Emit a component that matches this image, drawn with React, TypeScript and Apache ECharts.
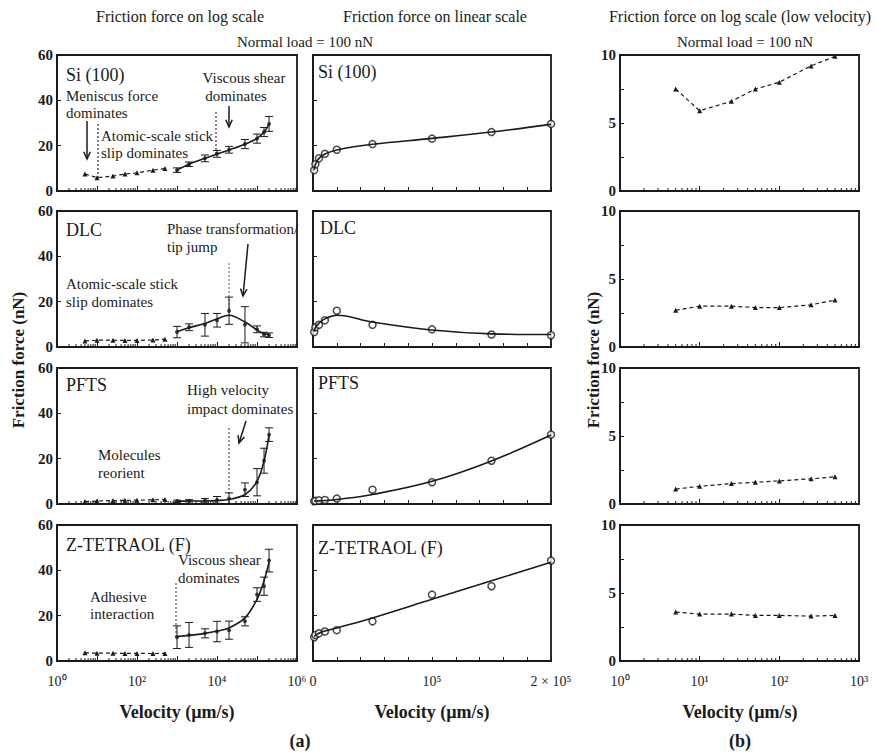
import React, { useEffect, useRef } from "react";
import * as echarts from "echarts";

// Sliding velocities (µm/s)
const highVelocity = [1000, 2000, 5000, 10000, 20000, 50000, 100000, 150000, 200000];
const lowVelocity = [5, 10, 25, 50, 100, 250, 500];

const materials = ["Si (100)", "DLC", "PFTS", "Z-TETRAOL (F)"];

// Low-velocity friction force (nN)
const siLow = [7.5, 5.9, 6.6, 7.5, 8.0, 9.2, 9.9];
const dlcLow = [2.7, 3.0, 3.0, 2.9, 2.9, 3.1, 3.45];
const pftsLow = [1.1, 1.3, 1.5, 1.6, 1.7, 1.85, 2.0];
const ztetraolLow = [3.6, 3.45, 3.45, 3.35, 3.35, 3.3, 3.35];

// High-velocity friction force (nN), measured points
const siHigh = [9.2, 11.8, 14.4, 16.4, 18.2, 20.7, 23.1, 26.0, 29.6];
const dlcHigh = [6.6, 8.7, 9.8, 11.8, 16.0, 9.8, 7.8, 5.5, 5.2];
const pftsHigh = [1.2, 1.4, 1.6, 1.8, 2.4, 6.3, 9.6, 19.1, 30.6];
const ztetraolHigh = [10.5, 11.5, 12.2, 13.0, 13.6, 17.5, 29.3, 33.0, 44.3];

// Fitted trend curves at the same velocities
const siFit = [9.2, 11.8, 14.4, 16.3, 18.1, 20.6, 23.2, 26.0, 29.4];
const dlcFit = [6.8, 8.5, 10.4, 12.4, 14.0, 11.0, 7.5, 5.8, 5.5];
const pftsFit = [1.25, 1.3, 1.4, 1.56, 2.0, 4.2, 10.0, 19.0, 30.4];
const ztetraolFit = [10.8, 11.3, 12.2, 13.2, 14.6, 19.0, 27.2, 35.4, 43.6];

// Error bar half-widths (nN)
const siErr = [1, 1, 1.5, 1.5, 1.5, 2, 2, 2, 3.3];
const dlcErr = [2.5, 1.5, 5, 3, 6, 8, 1.5, 1, 1];
const pftsErr = [0.5, 0.5, 0.8, 1.5, 2.5, 3, 6, 5.5, 3];
const ztetraolErr = [5, 5.5, 2, 4.5, 4, 2, 3, 4, 5];

const lowSets = [siLow, dlcLow, pftsLow, ztetraolLow];
const highSets = [siHigh, dlcHigh, pftsHigh, ztetraolHigh];
const fitSets = [siFit, dlcFit, pftsFit, ztetraolFit];
const errSets = [siErr, dlcErr, pftsErr, ztetraolErr];

const SERIF = "Liberation Serif";
const INK = "#1a1a1a";

const SUP: Record<string, string> = { "0": "⁰", "1": "¹", "2": "²", "3": "³", "4": "⁴", "5": "⁵", "6": "⁶" };
const pow10 = (e: number) => "10" + SUP[String(e)];

const COLS = [
  { left: 57, width: 240 },
  { left: 313, width: 238 },
  { left: 620, width: 239 },
];
const ROW_TOPS = [55, 211, 368, 525];
const ROW_H = 136;

function minorLogTicks(maxExp: number) {
  const out: number[][] = [];
  for (let k = 0; k < maxExp; k++) for (let m = 2; m <= 9; m++) out.push([m * Math.pow(10, k), 0]);
  return out;
}

const tickLabel = { fontFamily: SERIF, fontSize: 14, color: INK };

function logX(g: number, maxExp: number, show: boolean, every: number) {
  return {
    type: "log",
    gridIndex: g,
    logBase: 10,
    min: 1,
    max: Math.pow(10, maxExp),
    splitNumber: maxExp,
    axisLine: { show: true, lineStyle: { color: INK, width: 1.8 } },
    axisTick: { show: true, inside: true, length: 5, lineStyle: { color: INK, width: 1 } },
    axisLabel: {
      show,
      ...tickLabel,
      margin: 13,
      formatter: (v: number) => {
        const e = Math.round(Math.log10(v));
        return e % every === 0 ? pow10(e) : "";
      },
    },
    splitLine: { show: false },
  };
}

function linX(g: number, show: boolean) {
  return {
    type: "value",
    gridIndex: g,
    min: 0,
    max: 200000,
    interval: 20000,
    axisLine: { show: true, lineStyle: { color: INK, width: 1.8 } },
    axisTick: { show: true, inside: true, length: 4, lineStyle: { color: INK, width: 1 } },
    axisLabel: {
      show,
      ...tickLabel,
      margin: 13,
      formatter: (v: number) => (v === 0 ? "0" : v === 100000 ? "10⁵" : v === 200000 ? "2 × 10⁵" : ""),
    },
    splitLine: { show: false },
  };
}

function valY(g: number, max: number, interval: number, show: boolean, every: number) {
  return {
    type: "value",
    gridIndex: g,
    min: 0,
    max,
    interval,
    axisLine: { show: true, lineStyle: { color: INK, width: 1.8 } },
    axisTick: { show: true, inside: true, length: 4, lineStyle: { color: INK, width: 1 } },
    axisLabel: {
      show,
      fontFamily: SERIF,
      fontSize: 15,
      fontWeight: "bold",
      color: INK,
      margin: 4,
      formatter: (v: number) => (Math.abs(v / every - Math.round(v / every)) < 1e-9 ? String(v) : ""),
    },
    splitLine: { show: false },
  };
}

function tickSeries(g: number, maxExp: number) {
  return {
    type: "custom",
    xAxisIndex: g,
    yAxisIndex: g,
    silent: true,
    data: minorLogTicks(maxExp),
    encode: { x: 0, y: 1 },
    renderItem: (_p: any, api: any) => {
      const p = api.coord([api.value(0), 0]);
      return {
        type: "line",
        shape: { x1: p[0], y1: p[1], x2: p[0], y2: p[1] - 3 },
        style: { stroke: INK, lineWidth: 1 },
      };
    },
  };
}

function errorSeries(g: number, r: number) {
  return {
    type: "custom",
    xAxisIndex: g,
    yAxisIndex: g,
    silent: true,
    data: highVelocity.map((v, i) => [v, highSets[r][i], errSets[r][i]]),
    encode: { x: 0, y: 1 },
    renderItem: (_p: any, api: any) => {
      const x = api.value(0);
      const y = api.value(1);
      const e = api.value(2);
      const top = api.coord([x, y + e]);
      const bot = api.coord([x, Math.max(0, y - e)]);
      const cap = 4;
      const st = { stroke: INK, lineWidth: 1 };
      return {
        type: "group",
        children: [
          { type: "line", shape: { x1: top[0], y1: top[1], x2: bot[0], y2: bot[1] }, style: st },
          { type: "line", shape: { x1: top[0] - cap, y1: top[1], x2: top[0] + cap, y2: top[1] }, style: st },
          { type: "line", shape: { x1: bot[0] - cap, y1: bot[1], x2: bot[0] + cap, y2: bot[1] }, style: st },
        ],
      };
    },
  };
}

function txt(x: number, y: number, text: string, size = 15, extra: any = {}) {
  return {
    type: "text",
    x,
    y,
    style: {
      text,
      fill: INK,
      fontFamily: SERIF,
      fontSize: size,
      fontWeight: extra.weight || "normal",
      textAlign: extra.align || "left",
      textVerticalAlign: "middle",
    },
    rotation: extra.rotation || 0,
    silent: true,
  };
}

function dotted(x: number, y1: number, y2: number, color = "#333") {
  return {
    type: "line",
    shape: { x1: x, y1, x2: x, y2 },
    style: { stroke: color, lineWidth: 1.2, lineDash: [2, 2] },
    silent: true,
  };
}

function arrow(x1: number, y1: number, x2: number, y2: number) {
  const a = Math.atan2(y2 - y1, x2 - x1);
  const h = 8;
  const w = 0.42;
  const p1 = [x2 - h * Math.cos(a - w), y2 - h * Math.sin(a - w)];
  const p2 = [x2 - h * Math.cos(a + w), y2 - h * Math.sin(a + w)];
  return [
    { type: "line", shape: { x1, y1, x2, y2 }, style: { stroke: INK, lineWidth: 1.5 }, silent: true },
    {
      type: "polyline",
      shape: { points: [p1, [x2, y2], p2] },
      style: { stroke: INK, lineWidth: 1.5, fill: null },
      silent: true,
    },
  ];
}

function buildOption() {
  const grid: any[] = [];
  const xAxis: any[] = [];
  const yAxis: any[] = [];
  const series: any[] = [];

  ROW_TOPS.forEach((top, r) => {
    const last = r === ROW_TOPS.length - 1;
    COLS.forEach((c) => {
      grid.push({
        left: c.left,
        top,
        width: c.width,
        height: ROW_H,
        show: true,
        borderColor: INK,
        borderWidth: 1.8,
        containLabel: false,
      });
    });
    const g0 = r * 3;
    const g1 = r * 3 + 1;
    const g2 = r * 3 + 2;

    xAxis.push(logX(g0, 6, last, 2));
    xAxis.push(linX(g1, last));
    xAxis.push(logX(g2, 3, last, 1));
    yAxis.push(valY(g0, 60, 20, true, 20));
    yAxis.push(valY(g1, 60, 20, false, 20));
    yAxis.push(valY(g2, 10, 2.5, true, 5));

    // log-scale panel: low-velocity dashed run, fitted curve, points with error bars
    series.push({
      type: "line",
      xAxisIndex: g0,
      yAxisIndex: g0,
      data: lowVelocity.map((v, i) => [v, lowSets[r][i]]),
      symbol: "triangle",
      symbolSize: 5,
      itemStyle: { color: INK },
      lineStyle: { color: INK, width: 1.2, type: [4, 3] },
      silent: true,
    });
    series.push({
      type: "line",
      xAxisIndex: g0,
      yAxisIndex: g0,
      data: highVelocity.map((v, i) => [v, fitSets[r][i]]),
      smooth: 0.35,
      symbol: "none",
      lineStyle: { color: INK, width: 1.6 },
      silent: true,
    });
    series.push(errorSeries(g0, r));
    series.push({
      type: "scatter",
      xAxisIndex: g0,
      yAxisIndex: g0,
      data: highVelocity.map((v, i) => [v, highSets[r][i]]),
      symbol: "circle",
      symbolSize: 4,
      itemStyle: { color: INK },
      silent: true,
    });
    series.push(tickSeries(g0, 6));

    // linear-scale panel: fitted curve and open circles
    series.push({
      type: "line",
      xAxisIndex: g1,
      yAxisIndex: g1,
      data: highVelocity.map((v, i) => [v, fitSets[r][i]]),
      smooth: 0.4,
      symbol: "none",
      lineStyle: { color: INK, width: 1.6 },
      silent: true,
    });
    series.push({
      type: "scatter",
      xAxisIndex: g1,
      yAxisIndex: g1,
      data: highVelocity.map((v, i) => [v, highSets[r][i]]),
      symbol: "circle",
      symbolSize: 7,
      itemStyle: { color: "#fff", borderColor: INK, borderWidth: 1.5 },
      silent: true,
    });

    // low-velocity log panel
    series.push({
      type: "line",
      xAxisIndex: g2,
      yAxisIndex: g2,
      data: lowVelocity.map((v, i) => [v, lowSets[r][i]]),
      symbol: "triangle",
      symbolSize: 5,
      itemStyle: { color: INK },
      lineStyle: { color: INK, width: 1.2, type: [4, 3] },
      silent: true,
    });
    series.push(tickSeries(g2, 3));
  });

  const graphics: any[] = [
    txt(180, 16, "Friction force on log scale", 16, { align: "center" }),
    txt(435, 16, "Friction force on linear scale", 16, { align: "center" }),
    txt(740, 16, "Friction force on log scale (low velocity)", 16, { align: "center" }),
    txt(305, 42, "Normal load = 100 nN", 15, { align: "center" }),
    txt(745, 42, "Normal load = 100 nN", 15, { align: "center" }),

    // panel names
    txt(66, 75, materials[0], 18),
    txt(318, 72, materials[0], 18),
    txt(66, 230, materials[1], 18),
    txt(320, 228, materials[1], 18),
    txt(66, 385, materials[2], 18),
    txt(318, 383, materials[2], 18),
    txt(66, 545, materials[3], 18),
    txt(318, 548, materials[3], 18),

    // Si (100) annotations
    txt(66, 96, "Meniscus force", 15),
    txt(66, 113, "dominates", 15),
    txt(101, 136, "Atomic-scale stick", 15),
    txt(101, 153, "slip dominates", 15),
    txt(244, 78, "Viscous shear", 15, { align: "center" }),
    txt(236, 96, "dominates", 15, { align: "center" }),
    dotted(98, 124, 180),
    dotted(216, 112, 155),
    ...arrow(87, 121, 87, 159),
    ...arrow(229, 106, 229, 127),

    // DLC annotations
    txt(167, 229, "Phase transformation/", 15),
    txt(167, 247, "tip jump", 15),
    txt(66, 284, "Atomic-scale stick", 15),
    txt(66, 302, "slip dominates", 15),
    dotted(229, 263, 315, "#777"),
    ...arrow(248, 244, 243, 296),

    // PFTS annotations
    txt(187, 390, "High velocity", 15),
    txt(187, 409, "impact dominates", 15),
    txt(98, 455, "Molecules", 15),
    txt(98, 473, "reorient", 15),
    dotted(229, 428, 496, "#555"),
    ...arrow(246, 421, 239, 443),

    // Z-TETRAOL annotations
    txt(178, 560, "Viscous shear", 15),
    txt(178, 578, "dominates", 15),
    txt(90, 597, "Adhesive", 15),
    txt(90, 614, "interaction", 15),
    dotted(176, 583, 637, "#555"),

    // axis names and panel letters
    txt(18, 360, "Friction force (nN)", 17, { align: "center", weight: "bold", rotation: Math.PI / 2 }),
    txt(593, 360, "Friction force (nN)", 17, { align: "center", weight: "bold", rotation: Math.PI / 2 }),
    txt(177, 712, "Velocity (µm/s)", 18, { align: "center", weight: "bold" }),
    txt(432, 712, "Velocity (µm/s)", 18, { align: "center", weight: "bold" }),
    txt(740, 712, "Velocity (µm/s)", 18, { align: "center", weight: "bold" }),
    txt(300, 741, "(a)", 18, { align: "center", weight: "bold" }),
    txt(740, 741, "(b)", 18, { align: "center", weight: "bold" }),
  ];

  return {
    animation: false,
    backgroundColor: "#fff",
    grid,
    xAxis,
    yAxis,
    series,
    graphic: graphics,
  };
}

export default function App() {
  const ref = useRef<HTMLDivElement>(null);
  useEffect(() => {
    if (!ref.current) return;
    const chart = echarts.init(ref.current, null, { renderer: "svg" });
    chart.setOption(buildOption() as any);
    return () => chart.dispose();
  }, []);
  return (
    <div
      ref={ref}
      style={{ position: "fixed", left: 0, top: 0, width: 876, height: 756, background: "#fff" }}
    />
  );
}
